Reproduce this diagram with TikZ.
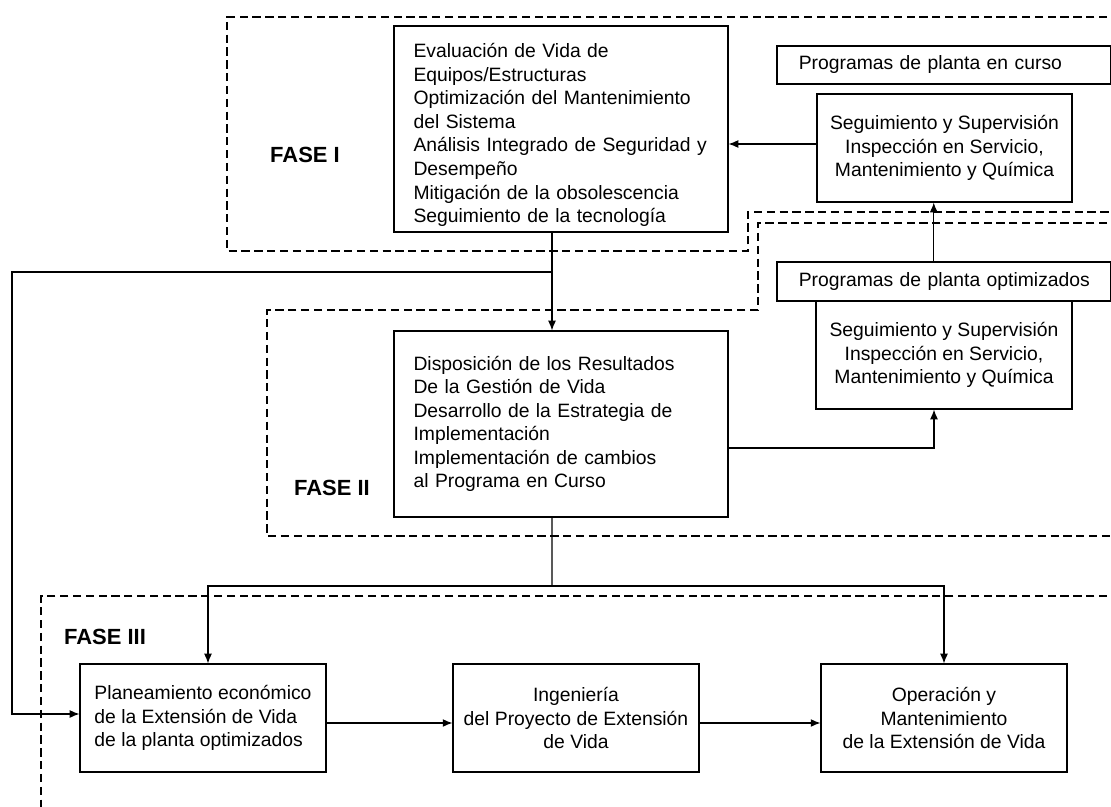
\documentclass[tikz,border=0pt]{standalone}
\usepackage{fontspec}
\setmainfont{Liberation Sans}
\usetikzlibrary{arrows.meta}

\tikzset{
	caja/.style={draw, line width=0.7pt, inner sep=0pt, font=\fontsize{11}{13.4}\selectfont},
	fase/.style={inner sep=0pt, font=\bfseries\fontsize{12.5}{15}\selectfont},
	region/.style={line width=1.3pt, dash pattern=on 4.7pt off 2.6pt},
	flecha/.style={line width=0.6pt, -{Latex[length=5.5pt,width=4.5pt]}},
	linea/.style={line width=0.6pt}
}

\begin{document}
\begin{tikzpicture}[x=0.02cm, y=-0.02cm]
				\useasboundingbox (0,0) rectangle (1111,807);
				
				\draw[region] (1120,17) -- (227,17) -- (227,251) -- (748,251) -- (748,212) -- (1120,212);
				\draw[region] (1120,223) -- (758,223) -- (758,310) -- (267,310) -- (267,536) -- (1120,536);
				\draw[region] (1120,596) -- (41,596) -- (41,815);
				
				\node[fase] (faseI) at (305,155) {FASE I};
				\node[fase] (faseII) at (332,488) {FASE II};
				\node[fase] (faseIII) at (105,637) {FASE III};
				
				\node[caja, minimum width=6.68cm, minimum height=4.12cm, text width=5.9cm, align=left] (eval) at (561,129) {\rule{0pt}{15pt}Evaluación de Vida de\\Equipos/Estructuras\\Optimización del Mantenimiento\\del Sistema\\Análisis Integrado de Seguridad y\\Desempeño\\Mitigación de la obsolescencia\\Seguimiento de la tecnología};
				\node[caja, minimum width=6.68cm, minimum height=3.72cm, text width=5.9cm, align=left] (dispo) at (561,424) {Disposición de los Resultados\\De la Gestión de Vida\\Desarrollo de la Estrategia de\\Implementación\\Implementación de cambios\\al Programa en Curso};
				
				\node[caja, minimum width=6.67cm, minimum height=0.76cm, text width=5.8cm, align=left] (progcurso) at (943.75,65) {\mbox{Programas de planta en curso}};
				\node[caja, minimum width=5.1cm, minimum height=2.16cm, align=center] (segI) at (944.5,148) {Seguimiento y Supervisión\\Inspección en Servicio,\\Mantenimiento y Química};
				\node[caja, minimum width=6.67cm, minimum height=0.78cm, text width=5.8cm, align=left] (progopt) at (943.75,281.5) {\mbox{Programas de planta optimizados}};
				\node[caja, minimum width=5.12cm, minimum height=2.16cm, align=center] (segII) at (944,355) {Seguimiento y Supervisión\\Inspección en Servicio,\\Mantenimiento y Química};
				
				\node[caja, minimum width=4.92cm, minimum height=2.16cm, align=left] (planea) at (203,718) {Planeamiento económico\\de la Extensión de Vida\\de la planta optimizados};
				\node[caja, minimum width=4.92cm, minimum height=2.16cm, align=center] (inge) at (576,718) {Ingeniería\\del Proyecto de Extensión\\de Vida};
				\node[caja, minimum width=4.92cm, minimum height=2.16cm, align=center] (opera) at (944,718) {Operación y\\Mantenimiento\\de la Extensión de Vida};
				
				\coordinate (desvio) at (552,272);
				\coordinate (esquina) at (12,272);
				\coordinate (reparto) at (552,586);
				
				\draw[flecha] ([yshift=0.08cm]segI.west) -- ([yshift=0.08cm]segI.west -| eval.east);
				\draw[flecha] ([xshift=-0.2cm]progopt.north) -- ([xshift=-0.2cm]progopt.north |- segI.south);
				\draw[flecha] ([yshift=-0.48cm]dispo.east) -| ([xshift=-0.2cm]segII.south);
				\draw[flecha] ([xshift=-0.18cm]eval.south) -- ([xshift=-0.18cm]dispo.north);
				\draw[flecha] (desvio) -- (esquina) |- ([yshift=0.08cm]planea.west);
				\draw[linea] ([xshift=-0.18cm]dispo.south) -- (reparto);
				\draw[flecha] (reparto) -| ([xshift=0.1cm]planea.north);
				\draw[flecha] (reparto) -| (opera.north);
				\draw[flecha] ([yshift=-0.1cm]planea.east) -- ([yshift=-0.1cm]inge.west);
				\draw[flecha] ([yshift=-0.1cm]inge.east) -- ([yshift=-0.1cm]opera.west);
			\end{tikzpicture}
\end{document}
